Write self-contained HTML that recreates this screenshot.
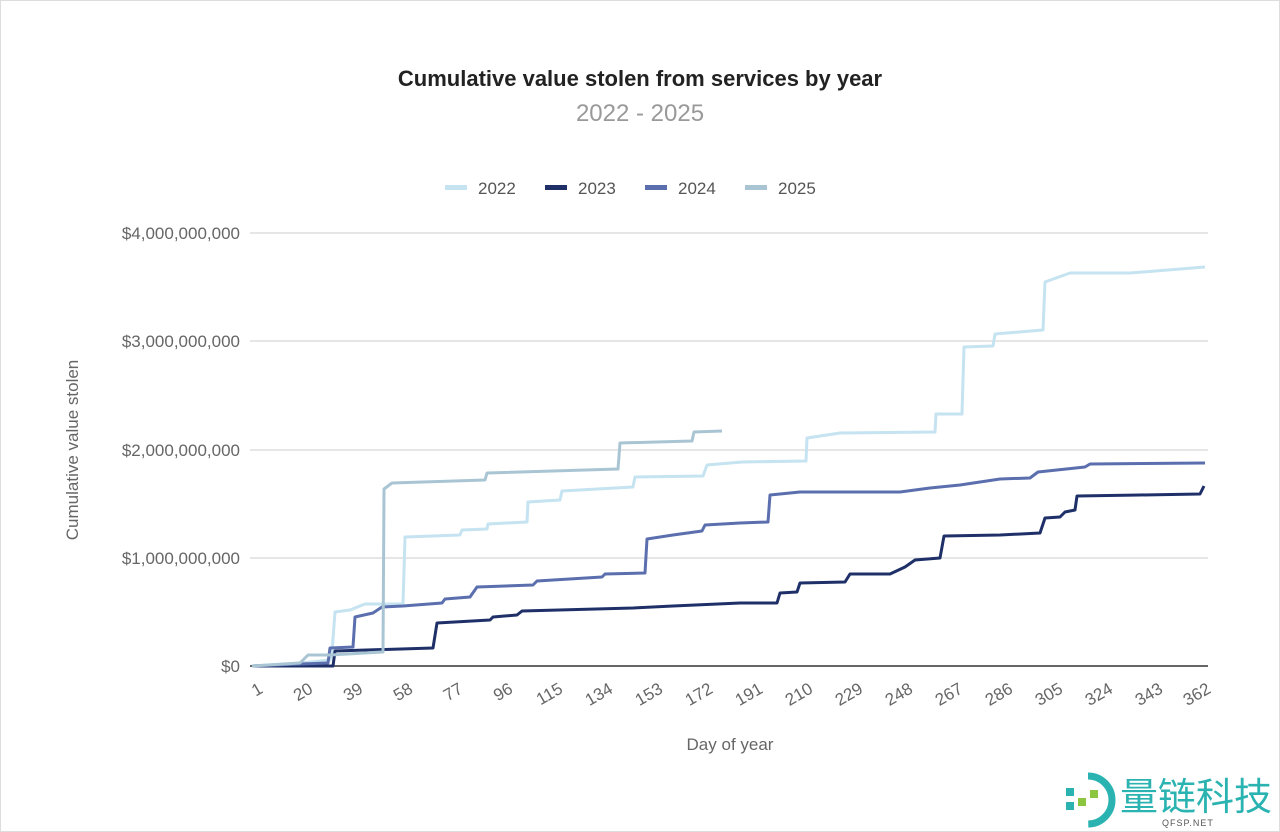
<!DOCTYPE html>
<html><head><meta charset="utf-8"><style>
body{margin:0;background:#fff;}
svg{display:block;font-family:"Liberation Sans",sans-serif;}
</style></head><body>
<svg width="1280" height="832" viewBox="0 0 1280 832">
<rect x="0.5" y="0.5" width="1279" height="831" fill="#fff" stroke="#ddd"/>
<text x="640" y="86" text-anchor="middle" font-size="22" font-weight="bold" fill="#222">Cumulative value stolen from services by year</text>
<text x="640" y="121" text-anchor="middle" font-size="24" fill="#999">2022 - 2025</text>
<g font-size="17" fill="#555">
<rect x="445" y="185" width="22" height="5" fill="#c5e3f0"/><text x="478" y="194">2022</text>
<rect x="545" y="185" width="22" height="5" fill="#1f3069"/><text x="578" y="194">2023</text>
<rect x="645" y="185" width="22" height="5" fill="#5b6fae"/><text x="678" y="194">2024</text>
<rect x="745" y="185" width="22" height="5" fill="#a9c5d4"/><text x="778" y="194">2025</text>
</g>
<g stroke="#ccc" stroke-width="1">
<line x1="250" y1="233" x2="1208" y2="233"/><line x1="250" y1="341" x2="1208" y2="341"/>
<line x1="250" y1="450" x2="1208" y2="450"/><line x1="250" y1="558" x2="1208" y2="558"/>
</g>
<line x1="250" y1="666" x2="1208" y2="666" stroke="#333" stroke-width="1.5"/>
<g font-size="17" fill="#666" text-anchor="end">
<text x="240" y="239">$4,000,000,000</text><text x="240" y="347">$3,000,000,000</text>
<text x="240" y="456">$2,000,000,000</text><text x="240" y="564">$1,000,000,000</text>
<text x="240" y="672">$0</text>
</g>
<text transform="translate(78,450) rotate(-90)" text-anchor="middle" font-size="17" fill="#666">Cumulative value stolen</text>
<text x="730" y="750" text-anchor="middle" font-size="17" fill="#666">Day of year</text>
<g font-size="17" fill="#666" text-anchor="end">
<text transform="translate(264,692) rotate(-30)">1</text>
<text transform="translate(314,692) rotate(-30)">20</text>
<text transform="translate(364,692) rotate(-30)">39</text>
<text transform="translate(414,692) rotate(-30)">58</text>
<text transform="translate(464,692) rotate(-30)">77</text>
<text transform="translate(514,692) rotate(-30)">96</text>
<text transform="translate(564,692) rotate(-30)">115</text>
<text transform="translate(614,692) rotate(-30)">134</text>
<text transform="translate(664,692) rotate(-30)">153</text>
<text transform="translate(714,692) rotate(-30)">172</text>
<text transform="translate(764,692) rotate(-30)">191</text>
<text transform="translate(814,692) rotate(-30)">210</text>
<text transform="translate(864,692) rotate(-30)">229</text>
<text transform="translate(914,692) rotate(-30)">248</text>
<text transform="translate(964,692) rotate(-30)">267</text>
<text transform="translate(1014,692) rotate(-30)">286</text>
<text transform="translate(1064,692) rotate(-30)">305</text>
<text transform="translate(1114,692) rotate(-30)">324</text>
<text transform="translate(1164,692) rotate(-30)">343</text>
<text transform="translate(1212,692) rotate(-30)">362</text>
</g>
<g fill="none" stroke-width="3" stroke-linejoin="round">
<polyline stroke="#c5e3f0" points="252,666 300,663 330,660 332,652 335,612 350,610 365,604 403,604 405,537 460,535 462,530 487,529 488,524 527,522 528,502 560,500 562,491 633,487 635,477 703,476 707,465 742,462 806,461 807,438 840,433 935,432 936,414 962,414 964,347 993,346 995,334 1043,330 1045,282 1070,273 1130,273 1205,267"/>
<polyline stroke="#1f3069" points="252,666 333,666 335,651 433,648 437,623 490,620 493,617 517,615 522,611 633,608 673,606 740,603 777,603 780,593 797,592 800,583 845,582 850,574 890,574 905,567 915,560 940,558 944,536 1000,535 1040,533 1045,518 1060,517 1065,512 1075,510 1077,496 1140,495 1200,494 1204,486"/>
<polyline stroke="#5b6fae" points="252,666 300,664 328,663 330,648 353,647 355,617 373,613 382,607 403,606 442,603 445,599 470,597 477,587 533,585 537,581 602,577 605,574 645,573 647,539 673,535 702,531 705,525 740,523 768,522 770,495 800,492 900,492 930,488 960,485 1000,479 1030,478 1038,472 1085,467 1090,464 1205,463"/>
<polyline stroke="#a9c5d4" points="252,666 300,663 308,655 330,655 383,652 384,489 392,483 485,480 487,473 618,469 620,443 692,441 694,432 722,431"/>
</g>
<g>
<circle cx="1088" cy="800" r="24" fill="none" stroke="#2bb3b1" stroke-width="7" stroke-dasharray="75 200" transform="rotate(-90 1088 800)"/>
<rect x="1066" y="788" width="8" height="8" fill="#2bb3b1"/><rect x="1078" y="798" width="8" height="8" fill="#8cc63f"/>
<rect x="1066" y="802" width="8" height="8" fill="#2bb3b1"/><rect x="1090" y="790" width="8" height="8" fill="#8cc63f"/>
<text x="1120" y="810" font-family="'Noto Sans CJK SC',sans-serif" font-size="38" fill="#2bb3b1">量链科技</text>
<text x="1162" y="826" font-size="9" fill="#555" letter-spacing="1">QFSP.NET</text>
</g>
</svg>
</body></html>
